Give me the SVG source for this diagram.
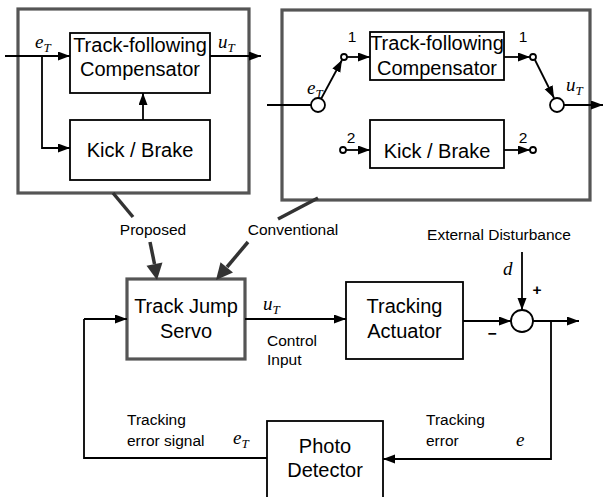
<svg xmlns="http://www.w3.org/2000/svg" width="604" height="497" viewBox="0 0 604 497">
<style>
.box{fill:#fff;stroke:#000;stroke-width:1.8}
.panel{fill:#fff;stroke:#555;stroke-width:3.2}
.lbl{font-family:"Liberation Sans",Arial,sans-serif;font-size:20px;fill:#000;text-anchor:middle}
.sm{font-family:"Liberation Sans",Arial,sans-serif;font-size:15.5px;fill:#000}
.math{font-family:"Liberation Serif","Times New Roman",serif;font-style:italic;font-size:19px;fill:#000}
.sub{font-size:13px}
.ln{fill:none;stroke:#000;stroke-width:1.8}
.arr{fill:none;stroke:#000;stroke-width:1.8;marker-end:url(#ah)}
.thick{fill:none;stroke:#333;stroke-width:3.5}
.circ{fill:#fff;stroke:#000;stroke-width:1.8}
</style>
<defs>
<marker id="ah" markerUnits="userSpaceOnUse" markerWidth="14" markerHeight="10" refX="12" refY="4.5" orient="auto">
<path d="M0,0 L12,4.5 L0,9 Z" fill="#000"/>
</marker>
</defs>

<g id="panel-proposed">
<rect class="panel" x="18" y="9" width="231" height="184"/>
</g>
<g id="panel-conventional">
<rect class="panel" x="282" y="10" width="308" height="190"/>
</g>

<g id="p-comp">
<rect class="box" x="70" y="33" width="140" height="60"/>
<text class="lbl" x="140" y="52">Track-following</text>
<text class="lbl" x="140" y="76">Compensator</text>
</g>
<g id="p-kick">
<rect class="box" x="70" y="120" width="140" height="60"/>
<text class="lbl" x="140" y="157">Kick / Brake</text>
</g>
<g id="c-comp">
<rect class="box" x="370" y="32" width="134" height="48"/>
<text class="lbl" x="437" y="50">Track-following</text>
<text class="lbl" x="437" y="75">Compensator</text>
</g>
<g id="c-kick">
<rect class="box" x="370" y="120" width="134" height="48"/>
<text class="lbl" x="437" y="158">Kick / Brake</text>
</g>
<g id="tjs">
<rect class="panel" x="127" y="279" width="118" height="80"/>
<text class="lbl" x="186" y="313">Track Jump</text>
<text class="lbl" x="186" y="338">Servo</text>
</g>
<g id="actuator">
<rect class="box" x="346" y="282" width="117" height="77"/>
<text class="lbl" x="404.5" y="313">Tracking</text>
<text class="lbl" x="404.5" y="338">Actuator</text>
</g>
<g id="detector">
<rect class="box" x="267" y="421" width="116" height="90"/>
<text class="lbl" x="325" y="453">Photo</text>
<text class="lbl" x="325" y="477">Detector</text>
</g>
<g id="sum">
<circle class="circ" cx="522" cy="321" r="11"/>
</g>
<g id="switches">
<circle class="circ" cx="318" cy="105" r="7"/>
<circle class="circ" cx="344" cy="57" r="3"/>
<circle class="circ" cx="533" cy="57" r="3"/>
<circle class="circ" cx="557" cy="105" r="7"/>
<circle class="circ" cx="343" cy="150" r="3"/>
<circle class="circ" cx="533" cy="150" r="3"/>
</g>

<g id="connectors">
<path class="arr" d="M5,56 H70"/>
<path class="arr" d="M42,56 V148 H70"/>
<path class="arr" d="M143,120 V93"/>
<path class="arr" d="M210,56 H261"/>
<path class="ln" d="M267,105 H311"/>
<path class="arr" d="M321,99 L342,60"/>
<path class="arr" d="M347,57 H370"/>
<path class="arr" d="M504,57 H530"/>
<path class="arr" d="M535,60 L554,98"/>
<path class="arr" d="M564,105 H603"/>
<path class="arr" d="M346,150 H370"/>
<path class="arr" d="M504,150 H530"/>
<path class="arr" d="M245,319 H346"/>
<path class="arr" d="M463,321 H511"/>
<path class="arr" d="M522,252 V310"/>
<path class="arr" d="M533,321 H579"/>
<path class="arr" d="M551,321 V459 H383"/>
<path class="ln" d="M267,458 H84 V319"/>
<path class="arr" d="M84,319 H127"/>
<path class="thick" d="M113,193 L133,217"/>
<path class="thick" d="M150,242 L154.5,264"/>
<polygon points="157,280 162.5,262.6 146.5,265.7" fill="#333"/>
<path class="thick" d="M318,198 L278,219"/>
<path class="thick" d="M248,242 L227,267"/>
<polygon points="216,280 233,272.5 220.5,262.2" fill="#333"/>
</g>

<g id="labels">
<text class="math" x="35" y="48">e<tspan class="sub" dy="4">T</tspan></text>
<text class="math" x="218" y="48">u<tspan class="sub" dy="4">T</tspan></text>
<text class="math" x="307" y="94">e<tspan class="sub" dy="4">T</tspan></text>
<text class="math" x="566" y="91">u<tspan class="sub" dy="4">T</tspan></text>
<text class="sm" x="352" y="42" text-anchor="middle" font-size="16">1</text>
<text class="sm" x="523" y="42" text-anchor="middle" font-size="16">1</text>
<text class="sm" x="351" y="143" text-anchor="middle" font-size="16">2</text>
<text class="sm" x="523" y="143" text-anchor="middle" font-size="16">2</text>
<text class="sm" x="153" y="235" text-anchor="middle">Proposed</text>
<text class="sm" x="293" y="235" text-anchor="middle">Conventional</text>
<text class="sm" x="499" y="240" text-anchor="middle">External Disturbance</text>
<text class="math" x="503" y="275" font-size="20">d</text>
<text class="sm" x="537" y="295" text-anchor="middle" font-weight="bold">+</text>
<text class="sm" x="492" y="339" text-anchor="middle" font-weight="bold">−</text>
<text class="math" x="263" y="310">u<tspan class="sub" dy="4">T</tspan></text>
<text class="sm" x="267" y="346">Control</text>
<text class="sm" x="267" y="365">Input</text>
<text class="sm" x="127" y="425">Tracking</text>
<text class="sm" x="127" y="446">error signal</text>
<text class="math" x="233" y="444">e<tspan class="sub" dy="4">T</tspan></text>
<text class="sm" x="426" y="425">Tracking</text>
<text class="sm" x="426" y="446">error</text>
<text class="math" x="516" y="446">e</text>
</g>
</svg>
